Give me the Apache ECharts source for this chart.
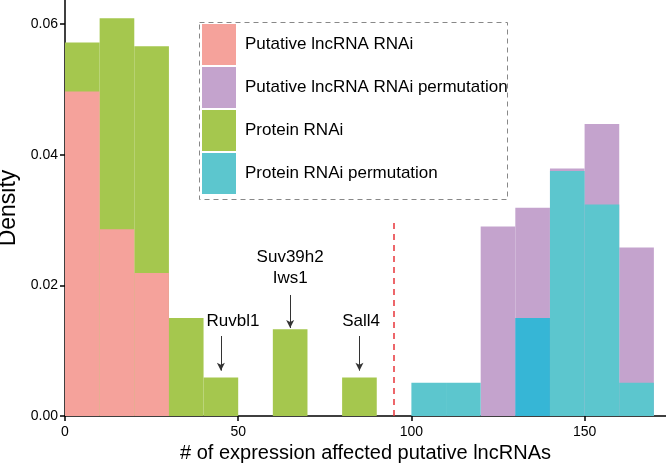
<!DOCTYPE html>
<html>
<head>
<meta charset="utf-8">
<script src="https://cdn.jsdelivr.net/npm/echarts@6/dist/echarts.min.js"></script>
<style>html,body{margin:0;padding:0;background:#fff;}#c{width:666px;height:463px;}</style>
</head>
<body>
<div id="c"></div>
<script>
var binWidth = 10;
var lncStarts = [0, 10, 20];
var lncValues = [0.0497, 0.0286, 0.0219];
var protStarts = [0, 10, 20, 30, 40, 50, 60, 70, 80];
var protValues = [0.0572, 0.0609, 0.0566, 0.0150, 0.0059, 0, 0.0133, 0, 0.0059];
var permStarts = [100, 110, 120, 130, 140, 150, 160];
var lncPermValues = [0, 0, 0.0290, 0.0319, 0.0379, 0.0447, 0.0258];
var protPermValues = [0.0051, 0.0051, 0, 0.0150, 0.0375, 0.0324, 0.0051];
var darkBinStart = 130;
var xTicks = [0, 50, 100, 150];
var yTicks = [0, 0.02, 0.04, 0.06];
var annotLabels = ['Ruvbl1', 'Suv39h2\nIws1', 'Sall4'];
var annotLabelX = [48.5, 65, 85.5];
var annotLabelY = [0.01455, 0.02266, 0.01455];
var arrowX = [45, 65, 85];
var arrowTop = [0.01225, 0.01853, 0.01225];
var arrowBottom = [0.00694, 0.01347, 0.00694];
var cutoffX = 95;
var cutoffTop = 0.0303;

var C = {pink:'#F5A29B', purple:'#C4A3CD', green:'#A5C74E', cyan:'#5CC6CE', darkCyan:'#36B6D6'};

function histData(starts, vals){
  return starts.map(function(s,i){ return [s, s + binWidth, vals[i]]; });
}
function renderBar(params, api){
  var x0 = api.value(0), x1 = api.value(1), y = api.value(2);
  if (!y) return null;
  var p0 = api.coord([x0, y]);
  var p1 = api.coord([x1, 0]);
  var color = api.visual('color');
  if (params.seriesName === 'Protein RNAi permutation' && x0 === darkBinStart) color = C.darkCyan;
  return {type:'rect', shape:{x:p0[0], y:p0[1], width:p1[0]-p0[0], height:p1[1]-p0[1]}, style:{fill:color}};
}
function histSeries(name, starts, vals, color){
  return {name:name, type:'custom', renderItem:renderBar, encode:{x:[0,1], y:2},
    itemStyle:{color:color}, data:histData(starts, vals), animation:false};
}

var arrowLines = arrowX.map(function(x,i){
  return [{coord:[x, arrowTop[i]]}, {coord:[x, arrowBottom[i]]}];
});

var chart = echarts.init(document.getElementById('c'));
chart.setOption({
  animation:false,
  textStyle:{fontFamily:'Liberation Sans, Arial, sans-serif'},
  grid:{left:65, right:0, top:0, bottom:47, containLabel:false, outerBoundsMode:'none'},
  xAxis:{type:'value', min:0, max:173.5, interval:50,
    name:'# of expression affected putative lncRNAs', nameLocation:'middle', nameGap:27,
    nameTextStyle:{fontSize:20, color:'#000'},
    axisLine:{lineStyle:{color:'#000', width:1.5}},
    axisTick:{length:5, lineStyle:{color:'#000', width:1.5}},
    axisLabel:{fontSize:14, color:'#000', margin:9, showMaxLabel:false,
      formatter:function(v){ return xTicks.indexOf(v) >= 0 ? String(v) : ''; }},
    splitLine:{show:false}},
  yAxis:{type:'value', min:0, max:0.0637, interval:0.02,
    name:'Density', nameLocation:'middle', nameGap:44, nameRotate:90,
    nameTextStyle:{fontSize:23, color:'#000', padding:[0,0,0,0]},
    axisLine:{show:true, lineStyle:{color:'#000', width:1.5}},
    axisTick:{show:true, length:5, lineStyle:{color:'#000', width:1.5}},
    axisLabel:{fontSize:14, color:'#000', margin:7, showMaxLabel:false,
      formatter:function(v){ return yTicks.some(function(t){return Math.abs(t-v)<1e-9;}) ? v.toFixed(2) : ''; }},
    splitLine:{show:false}},
  legend:{orient:'vertical', left:202, top:24, padding:0, itemWidth:34, itemHeight:41, itemGap:2,
    icon:'rect', data:['Putative lncRNA RNAi','Putative lncRNA RNAi permutation','Protein RNAi','Protein RNAi permutation'],
    textStyle:{fontSize:17, color:'#000', padding:[0,0,0,4]}},
  graphic:[{type:'rect', left:197, top:20, shape:{width:308, height:177},
    style:{fill:'none', stroke:'#888', lineWidth:1, lineDash:[5,4]}, silent:true}],
  series:[
    histSeries('Protein RNAi', protStarts, protValues, C.green),
    histSeries('Putative lncRNA RNAi', lncStarts, lncValues, C.pink),
    histSeries('Putative lncRNA RNAi permutation', permStarts, lncPermValues, C.purple),
    histSeries('Protein RNAi permutation', permStarts, protPermValues, C.cyan),
    {name:'annotations', type:'scatter', symbolSize:0, silent:true, animation:false,
      itemStyle:{opacity:1},
      data:annotLabels.map(function(t,i){ return {name:t, value:[annotLabelX[i], annotLabelY[i]]}; }),
      label:{show:true, position:'inside', formatter:'{b}', fontSize:17, color:'#000', lineHeight:21},
      markLine:{silent:true, animation:false, symbol:['none','arrow'], symbolSize:[6,8],
        lineStyle:{color:'#333', width:1, type:'solid'}, label:{show:false},
        data:arrowLines.concat([[{coord:[cutoffX,0], symbol:'none', lineStyle:{color:'#E8343A', width:1.5, type:[6,5]}},
                                {coord:[cutoffX,cutoffTop], symbol:'none'}]])}}
  ]
});
</script>
</body>
</html>
